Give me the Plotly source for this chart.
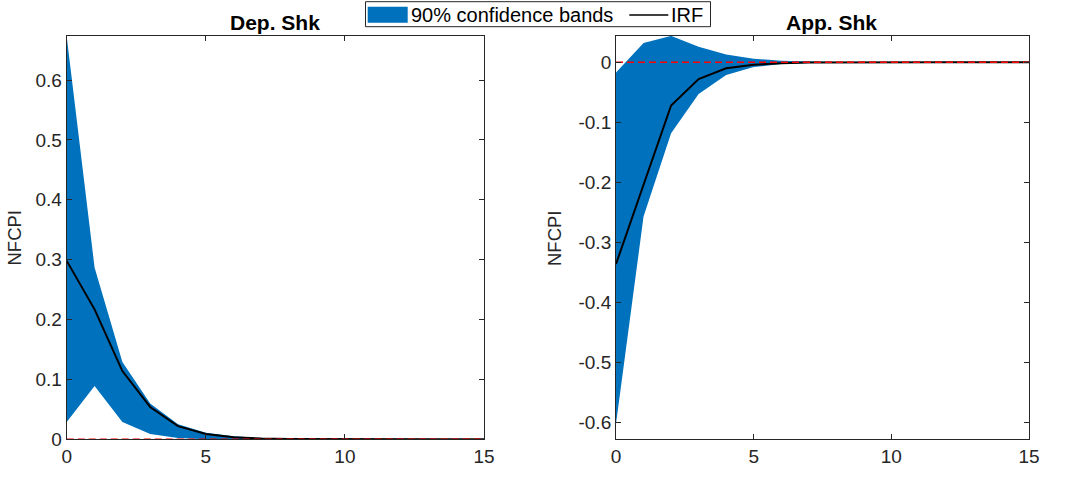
import plotly.graph_objects as go

horizon = list(range(16))

dep_irf = [0.298, 0.217, 0.114, 0.054, 0.022, 0.009, 0.0035, 0.0014, 0.0006, 0.0003, 0.0001, 0.00005, 0.0, 0.0, 0.0, 0.0]
dep_upper = [0.672, 0.287, 0.129, 0.060, 0.025, 0.011, 0.005, 0.002, 0.001, 0.0005, 0.0002, 0.0001, 0.0, 0.0, 0.0, 0.0]
dep_lower = [0.029, 0.089, 0.029, 0.009, 0.002, 0.0003, 0.0, 0.0, 0.0, 0.0, 0.0, 0.0, 0.0, 0.0, 0.0, 0.0]

app_irf = [-0.336, -0.205, -0.072, -0.028, -0.010, -0.004, -0.0015, -0.0005, -0.0002, -0.0001, 0.0, 0.0, 0.0, 0.0, 0.0, 0.0]
app_upper = [-0.017, 0.032, 0.044, 0.026, 0.013, 0.006, 0.0025, 0.001, 0.0004, 0.0002, 0.0001, 0.0, 0.0, 0.0, 0.0, 0.0]
app_lower = [-0.602, -0.257, -0.118, -0.053, -0.021, -0.008, -0.003, -0.001, -0.0004, -0.0002, -0.0001, 0.0, 0.0, 0.0, 0.0, 0.0]

zero_line = [0.0] * len(horizon)

titles = ["Dep. Shk", "App. Shk"]
ylabel = "NFCPI"
legend_labels = ["90% confidence bands", "IRF"]
xticks = [0, 5, 10, 15]
dep_yticks = [0, 0.1, 0.2, 0.3, 0.4, 0.5, 0.6]
app_yticks = [0, -0.1, -0.2, -0.3, -0.4, -0.5, -0.6]

BLUE = "#0072BD"
AX = "#262626"
FONT = "Liberation Sans, Arial, Helvetica, sans-serif"
W, H = 1068, 477


def px(x):
    return x / W


def py(y):
    return 1 - y / H


fig = go.Figure()

panels = [
    ("x", "y", dep_lower, dep_upper, dep_irf),
    ("x2", "y2", app_lower, app_upper, app_irf),
]
for xa, ya, lo, up, irf in panels:
    fig.add_trace(go.Scatter(x=horizon, y=lo, xaxis=xa, yaxis=ya, mode="lines",
                             line=dict(width=0, color=BLUE), showlegend=False,
                             hoverinfo="skip"))
    fig.add_trace(go.Scatter(x=horizon, y=up, xaxis=xa, yaxis=ya, mode="lines",
                             line=dict(width=0, color=BLUE), fill="tonexty",
                             fillcolor=BLUE, name=legend_labels[0], showlegend=False))
    fig.add_trace(go.Scatter(x=horizon, y=irf, xaxis=xa, yaxis=ya, mode="lines",
                             line=dict(width=2, color="black"), name=legend_labels[1],
                             showlegend=False))
    fig.add_trace(go.Scatter(x=horizon, y=zero_line, xaxis=xa, yaxis=ya, mode="lines",
                             line=dict(width=1.5, color="red", dash="7px,4px"),
                             showlegend=False, hoverinfo="skip"))

axis_common = dict(showline=True, linecolor=AX, linewidth=1, mirror="ticks",
                   ticks="inside", ticklen=5, tickcolor=AX, tickwidth=1,
                   showgrid=False, zeroline=False, automargin=False,
                   tickfont=dict(family=FONT, size=19, color=AX))

fig.update_layout(
    width=W, height=H, autosize=False,
    margin=dict(l=0, r=0, t=0, b=0, pad=0, autoexpand=False),
    paper_bgcolor="white", plot_bgcolor="white",
    font=dict(family=FONT, color=AX),
    xaxis=dict(domain=[0.0625, 0.4532], range=[0, 15], tickvals=xticks, anchor="y", **axis_common),
    yaxis=dict(domain=[0.079, 0.9245], range=[0, 0.6735], tickvals=dep_yticks, anchor="x", **axis_common),
    xaxis2=dict(domain=[0.5768, 0.9635], range=[0, 15], tickvals=xticks, anchor="y2", **axis_common),
    yaxis2=dict(domain=[0.079, 0.9245], range=[-0.628, 0.0438], tickvals=app_yticks,
                ticktext=["0", "-0.1", "-0.2", "-0.3", "-0.4", "-0.5", "-0.6"], anchor="x2", **axis_common),
    showlegend=False,
)

# legend box (MATLAB style: patch swatch + line sample)
fig.add_shape(type="rect", xref="paper", yref="paper",
              x0=px(365.5), x1=px(710.5), y0=py(26.7), y1=py(1.7),
              line=dict(color=AX, width=1), fillcolor="white", layer="above")
fig.add_shape(type="rect", xref="paper", yref="paper",
              x0=px(367.7), x1=px(407.7), y0=py(22.7), y1=py(6.7),
              line=dict(width=0), fillcolor=BLUE, layer="above")
fig.add_shape(type="line", xref="paper", yref="paper",
              x0=px(629.3), x1=px(668.3), y0=py(15), y1=py(15),
              line=dict(color="black", width=1.5), layer="above")
fig.add_annotation(text=legend_labels[0], x=px(409), y=py(15), xref="paper", yref="paper",
                   showarrow=False, xanchor="left", yanchor="middle",
                   font=dict(family=FONT, size=20, color="black"))
fig.add_annotation(text=legend_labels[1], x=px(669), y=py(15), xref="paper", yref="paper",
                   showarrow=False, xanchor="left", yanchor="middle",
                   font=dict(family=FONT, size=20, color="black"))

fig.add_annotation(text="<b>" + titles[0] + "</b>", x=px(275), y=py(22.5),
                   xref="paper", yref="paper", showarrow=False,
                   font=dict(family=FONT, size=21, color="black"), xanchor="center", yanchor="middle")
fig.add_annotation(text="<b>" + titles[1] + "</b>", x=px(831), y=py(22.5),
                   xref="paper", yref="paper", showarrow=False,
                   font=dict(family=FONT, size=21, color="black"), xanchor="center", yanchor="middle")
for xpix in (13.5, 554):
    fig.add_annotation(text=ylabel, x=px(xpix), y=py(238),
                       xref="paper", yref="paper", showarrow=False, textangle=-90,
                       font=dict(family=FONT, size=18.5, color=AX), xanchor="center", yanchor="middle")

fig.write_html("out.html")
